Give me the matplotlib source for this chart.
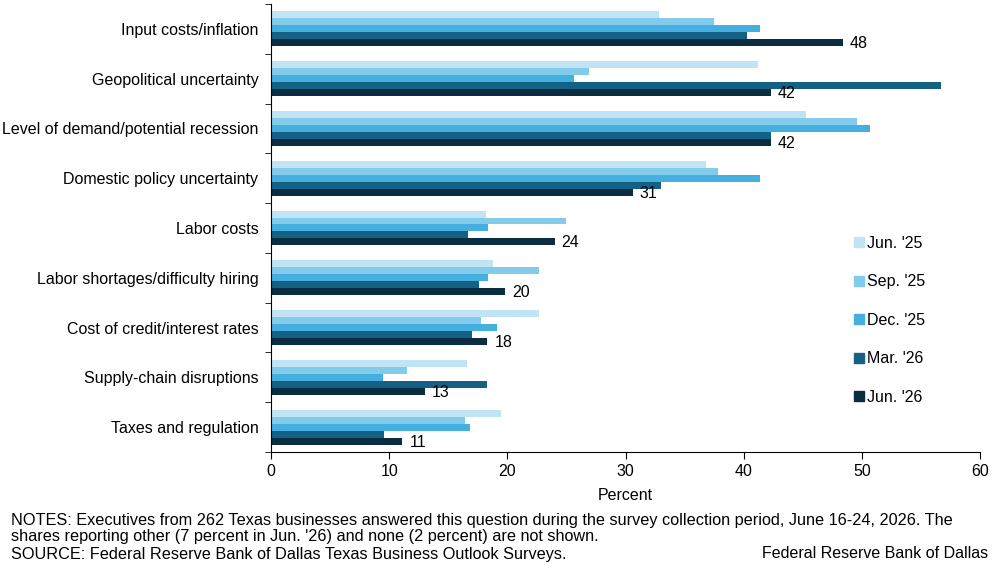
import numpy as np
import matplotlib.pyplot as plt
from matplotlib.lines import Line2D

plt.rcParams['font.family'] = ['Liberation Sans', 'DejaVu Sans']

categories = ['Input costs/inflation', 'Geopolitical uncertainty',
              'Level of demand/potential recession', 'Domestic policy uncertainty',
              'Labor costs', 'Labor shortages/difficulty hiring',
              'Cost of credit/interest rates', 'Supply-chain disruptions',
              'Taxes and regulation']
series_names = ["Jun. '25", "Sep. '25", "Dec. '25", "Mar. '26", "Jun. '26"]
jun25 = [32.8, 41.2, 45.3, 36.8, 18.2, 18.8, 22.7, 16.6, 19.5]
sep25 = [37.5, 26.9, 49.6, 37.8, 25.0, 22.7, 17.8, 11.5, 16.4]
dec25 = [41.4, 25.6, 50.7, 41.4, 18.4, 18.4, 19.1, 9.5, 16.8]
mar26 = [40.3, 56.7, 42.3, 33.0, 16.7, 17.6, 17.0, 18.3, 9.6]
jun26 = [48.4, 42.3, 42.3, 30.6, 24.0, 19.8, 18.3, 13.0, 11.1]
colors = ['#c1e4f4', '#82cbea', '#45afe0', '#156185', '#0b2d42']

notes = ["NOTES: Executives from 262 Texas businesses answered this question during the survey collection period, June 16-24, 2026. The",
         "shares reporting other (7 percent in Jun. '26) and none (2 percent) are not shown.",
         "SOURCE: Federal Reserve Bank of Dallas Texas Business Outlook Surveys."]

series = [jun25, sep25, dec25, mar26, jun26]
FS = 11.5

fig = plt.figure(figsize=(9.97, 5.65), dpi=100)
ax = fig.add_axes([0.2718, 0.2, 0.7112, 0.793])

y = np.arange(len(categories))
h = 0.14
for i, (vals, c) in enumerate(zip(series, colors)):
    ax.barh(y + (i - 2) * h, vals, height=h, color=c, label=series_names[i])

# value labels on latest series
for yi, v in zip(y, jun26):
    ax.text(v + 0.6, yi + 2 * h + 0.02, f'{round(v):.0f}', va='center', ha='left',
            fontsize=FS, color='black')

ax.set_ylim(len(categories) - 0.52, -0.48)
ax.set_xlim(0, 60)
ax.set_xticks(np.arange(0, 61, 10))
ax.set_yticks(y)
ax.set_yticklabels(categories, fontsize=FS)
ax.tick_params(axis='y', length=0, pad=9)
ax.set_yticks(np.arange(-0.5, len(categories), 1), minor=True)
ax.tick_params(axis='y', which='minor', length=4, direction='out')
ax.tick_params(axis='x', labelsize=FS, length=5, direction='out', pad=4)
ax.set_xlabel('Percent', fontsize=FS, labelpad=6)
for s in ['top', 'right']:
    ax.spines[s].set_visible(False)

handles = [Line2D([], [], marker='s', linestyle='none', markersize=7,
                  markerfacecolor=c, markeredgecolor=c) for c in colors]
ax.legend(handles, series_names, loc='upper left', bbox_to_anchor=(0.814, 0.497),
          frameon=False, fontsize=FS, handlelength=0.6, handletextpad=0.2,
          labelspacing=1.47, borderaxespad=0)

# footer
for k, line in enumerate(notes):
    fig.text(0.011, (565 - 520 - 17 * k) / 565, line, fontsize=11.7,
             va='center', ha='left')
fig.text(0.991, (565 - 554) / 565, 'Federal Reserve Bank of Dallas', fontsize=FS,
         va='center', ha='right')

fig.savefig('out.png', dpi=100)
